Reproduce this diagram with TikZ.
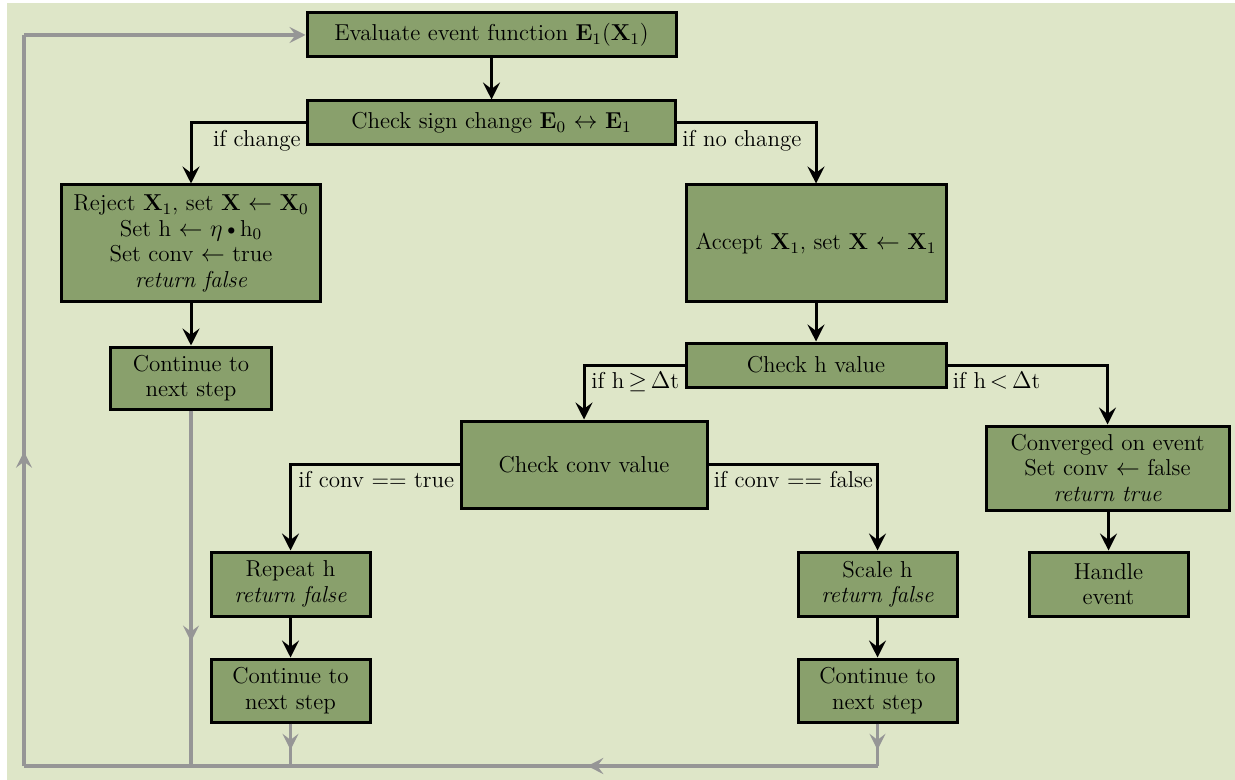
\documentclass[tikz,border=0pt]{standalone}
\usetikzlibrary{arrows.meta,decorations.markings}

\definecolor{bgcol}{RGB}{222,230,200}
\definecolor{boxgreen}{RGB}{137,160,108}
\definecolor{loopgray}{RGB}{150,150,150}

\newcommand{\vb}[1]{\textbf{#1}}
\newcommand{\sub}[1]{\textsubscript{#1}}

\tikzset{
  stepbox/.style={draw=black, line width=1.5pt, fill=boxgreen, align=center,
    inner sep=0pt, font=\fontsize{11.5}{12.75}\selectfont},
  flow/.style={draw=black, line width=1.5pt,
    -{Stealth[length=8.5pt,width=8.5pt,inset=3.2pt]}},
  cond/.style={font=\fontsize{11.5}{12.75}\selectfont, inner xsep=2.5pt, inner ysep=3.3pt},
  back/.style={draw=loopgray, line width=1.6pt},
  midtip/.style={postaction={decorate}, decoration={markings,
    mark=at position #1 with {\arrow{Stealth[length=8pt,width=8pt,inset=3pt,loopgray]}}}},
}

\begin{document}
\begin{tikzpicture}[x=0.5pt, y=-0.5pt]
  \useasboundingbox (0,0) rectangle (1235,780);
  \fill[bgcol] (7,3) rectangle (1235,780);

  % process boxes
  \node[stepbox, minimum width=184.5pt, minimum height=22pt] (eval) at (491.5,35)
    {Evaluate event function \vb{E}\sub{1}(\vb{X}\sub{1})};
  \node[stepbox, minimum width=184pt, minimum height=22pt] (sign) at (491.5,123)
    {Check sign change \vb{E}\sub{0} $\leftrightarrow$ \vb{E}\sub{1}};
  \node[stepbox, minimum width=129.5pt, minimum height=58.5pt] (reject) at (191,243.5)
    {Reject \vb{X}\sub{1}, set \vb{X} $\leftarrow$ \vb{X}\sub{0}\\
     Set h $\leftarrow$ $\eta$\textbullet h\sub{0}\\
     Set conv $\leftarrow$ true\\
     \textit{return false}};
  \node[stepbox, minimum width=130pt, minimum height=58.5pt] (accept) at (816,243.5)
    {Accept \vb{X}\sub{1}, set \vb{X} $\leftarrow$ \vb{X}\sub{1}};
  \node[stepbox, minimum width=80.5pt, minimum height=31pt] (contA) at (191,378)
    {Continue to\\next step};
  \node[stepbox, minimum width=130pt, minimum height=22pt] (checkh) at (816,365)
    {Check h value};
  \node[stepbox, minimum width=123pt, minimum height=43.5pt] (checkconv) at (584,464.5)
    {Check conv value};
  \node[stepbox, minimum width=121.5pt, minimum height=42pt] (conv) at (1107.5,468)
    {Converged on event\\Set conv $\leftarrow$ false\\\textit{return true}};
  \node[stepbox, minimum width=79.5pt, minimum height=32pt] (repeat) at (290.5,584)
    {Repeat h\\\textit{return false}};
  \node[stepbox, minimum width=79.5pt, minimum height=32pt] (scale) at (877.5,584)
    {Scale h\\\textit{return false}};
  \node[stepbox, minimum width=79.5pt, minimum height=32pt] (handle) at (1108.5,584)
    {Handle\\event};
  \node[stepbox, minimum width=79.5pt, minimum height=31.5pt] (contB) at (290.5,690.5)
    {Continue to\\next step};
  \node[stepbox, minimum width=79.5pt, minimum height=31.5pt] (contC) at (877.5,690.5)
    {Continue to\\next step};

  % return path back to the event evaluation
  \coordinate (cornerBL) at (24,766);
  \coordinate (cornerTL) at (24,35);
  \coordinate (joinA) at (contA.south |- cornerBL);
  \coordinate (joinB) at (contB.south |- cornerBL);
  \coordinate (joinC) at (contC.south |- cornerBL);
  \draw[back, midtip=0.34] (joinC) -- (cornerBL);
  \draw[back, midtip=0.43] (cornerBL) -- (cornerTL);
  \draw[back, -{Stealth[length=8pt,width=8pt,inset=3pt]}] (cornerTL) -- (eval.west);
  \draw[back, midtip=0.65] (contA.south) -- (joinA);
  \draw[back, midtip=0.62] (contB.south) -- (joinB);
  \draw[back, midtip=0.62] (contC.south) -- (joinC);

  % main decision flow
  \draw[flow] (eval) -- (sign);
  \draw[flow] (sign.west) -| (reject.north);
  \node[cond, anchor=north east] (lchange) at (sign.west) {if change};
  \draw[flow] (sign.east) -| (accept.north);
  \node[cond, anchor=north west] (lnochange) at (sign.east) {if no change};
  \draw[flow] (reject) -- (contA);
  \draw[flow] (accept) -- (checkh);
  \draw[flow] (checkh.west) -| (checkconv.north);
  \node[cond, anchor=north east] (lge) at (checkh.west) {if h\,$\geq$\,$\Delta$t};
  \draw[flow] (checkh.east) -| (conv.north);
  \node[cond, anchor=north west] (llt) at (checkh.east) {if h\,$<$\,$\Delta$t};
  \draw[flow] (checkconv.west) -| (repeat.north);
  \node[cond, anchor=north east] (ltrue) at (checkconv.west) {if conv == true};
  \draw[flow] (checkconv.east) -| (scale.north);
  \node[cond, anchor=north west] (lfalse) at (checkconv.east) {if conv == false};
  \draw[flow] (repeat) -- (contB);
  \draw[flow] (scale) -- (contC);
  \draw[flow] (conv.south -| handle.north) -- (handle.north);
\end{tikzpicture}
\end{document}
